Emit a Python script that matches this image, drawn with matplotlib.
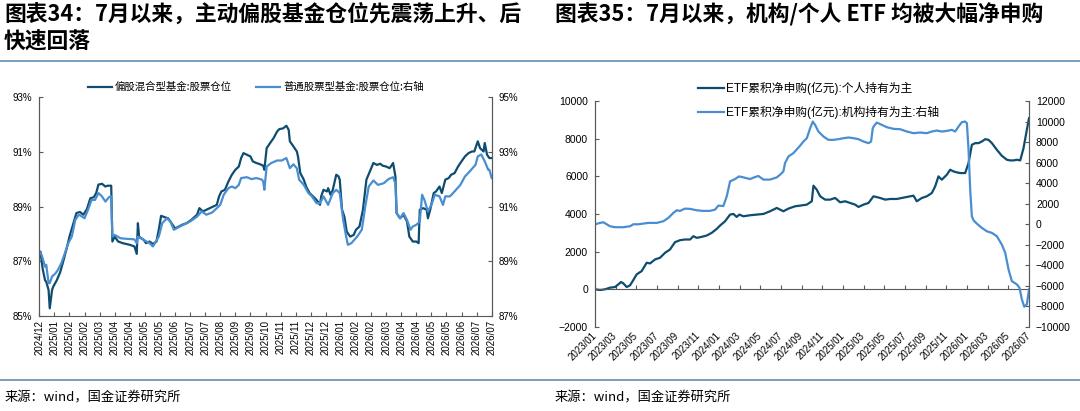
import matplotlib
matplotlib.use('Agg')
import matplotlib.pyplot as plt
from matplotlib.lines import Line2D

plt.rcParams['font.family'] = ['Liberation Sans', 'Noto Sans CJK SC', 'DejaVu Sans']
CJK = ['Noto Sans CJK SC', 'DejaVu Sans']

# ---------------- data: chart 34 (left) ----------------
title34_l1 = '图表34：7月以来，主动偏股基金仓位先震荡上升、后'
title34_l2 = '快速回落'
name_mix = '偏股混合型基金:股票仓位'
name_stock = '普通股票型基金:股票仓位:右轴'
left_tick_labels = ['2024/12', '2025/01', '2025/02', '2025/02', '2025/03', '2025/04', '2025/04',
                    '2025/05', '2025/05', '2025/06', '2025/07', '2025/07', '2025/08', '2025/09',
                    '2025/09', '2025/10', '2025/11', '2025/11', '2025/12', '2025/12', '2026/01',
                    '2026/02', '2026/02', '2026/03', '2026/04', '2026/04', '2026/05', '2026/05',
                    '2026/06', '2026/07', '2026/07']
# trading-day index
mix_day = [0, 1, 3, 5, 6, 8, 9, 11, 12, 15,
           18, 21, 24, 26, 29, 31, 32, 35, 38, 41,
           44, 47, 49, 51, 54, 57, 59, 62, 63, 65,
           68, 72, 78, 82, 84, 85, 86, 90, 92, 95,
           98, 101, 103, 105, 108, 111, 114, 117, 120, 123,
           127, 131, 136, 138, 141, 144, 149, 153, 155, 157,
           160, 163, 166, 169, 172, 174, 176, 179, 182, 184,
           187, 190, 193, 194, 196, 199, 202, 205, 207, 210,
           213, 215, 216, 219, 222, 223, 225, 228, 230, 233,
           236, 239, 242, 243, 245, 248, 249, 251, 253, 256,
           258, 259, 261, 263, 265, 266, 268, 271, 273, 276,
           279, 282, 285, 288, 291, 294, 296, 299, 302, 304,
           305, 307, 308, 311, 314, 317, 319, 322, 325, 327,
           328, 331, 334, 335, 337, 340, 342, 345, 347, 350,
           353, 355, 358, 361, 364, 367, 370, 373, 375, 378,
           380, 383, 384, 386, 388, 390]
mix_pos = [87.29, 87.35, 86.7, 86.3, 86.25, 85.95, 85.28, 85.95, 86.07, 86.3,
           86.6, 87.05, 87.54, 87.9, 88.33, 88.63, 88.76, 88.8, 88.7, 88.9,
           89.3, 89.34, 89.49, 89.8, 89.83, 89.73, 89.76, 89.76, 87.72, 87.9,
           87.72, 87.66, 87.6, 87.54, 87.27, 88.39, 87.9, 87.78, 87.66, 87.72,
           87.63, 87.72, 88.15, 88.66, 88.61, 88.57, 88.39, 88.2, 88.26, 88.33,
           88.39, 88.51, 88.7, 88.94, 88.82, 88.88, 88.98, 89.06, 89.37, 89.55,
           89.61, 89.91, 90.16, 90.34, 90.46, 90.77, 90.95, 90.89, 90.83, 90.65,
           90.59, 90.55, 90.49, 90.34, 91.13, 91.32, 91.5, 91.74, 91.83, 91.85,
           91.95, 91.8, 91.38, 91.2, 91.01, 90.83, 90.22, 89.98, 89.73, 89.49,
           89.37, 89.24, 89.06, 89.37, 89.61, 89.55, 89.67, 89.43, 89.61, 90.16,
           90.1, 89.98, 88.88, 88.63, 88.09, 88.02, 87.9, 87.96, 88.15, 88.27,
           88.88, 89.98, 90.28, 90.59, 90.52, 90.56, 90.49, 90.46, 90.4, 90.52,
           90.59, 90.1, 88.76, 88.57, 88.7, 88.45, 87.9, 87.72, 87.72, 87.66,
           88.88, 88.94, 88.88, 88.57, 88.88, 89.49, 89.55, 89.73, 89.49, 89.98,
           90.04, 90.16, 90.22, 90.46, 90.65, 90.83, 90.95, 91.01, 91.01, 91.38,
           91.13, 91.01, 91.32, 90.89, 90.77, 90.77]
stock_day = [0, 2, 5, 6, 8, 9, 11, 14, 16, 19,
             22, 25, 28, 31, 34, 37, 39, 42, 45, 48,
             51, 54, 57, 60, 62, 63, 65, 70, 75, 82,
             84, 85, 90, 95, 98, 103, 106, 110, 113, 116,
             120, 124, 130, 136, 140, 144, 149, 153, 156, 159,
             163, 166, 169, 172, 174, 179, 183, 187, 192, 193,
             194, 196, 200, 205, 209, 213, 216, 219, 222, 224,
             228, 232, 235, 239, 242, 245, 249, 253, 256, 259,
             262, 264, 266, 269, 274, 278, 281, 284, 288, 292,
             297, 301, 305, 307, 308, 311, 314, 317, 320, 322,
             325, 328, 330, 332, 335, 338, 341, 345, 348, 350,
             354, 358, 363, 367, 371, 376, 378, 381, 384, 387,
             388, 390]
stock_pos = [89.35, 89.23, 88.8, 88.87, 88.2, 88.2, 88.44, 88.56, 88.68, 88.93,
             89.29, 89.66, 89.9, 90.51, 90.7, 90.63, 90.57, 90.88, 91.24, 91.24,
             91.49, 91.37, 91.18, 91.34, 91.37, 89.9, 89.96, 89.84, 89.82, 89.8,
             89.66, 89.9, 89.78, 89.66, 89.54, 89.9, 90.39, 90.57, 90.45, 90.15,
             90.24, 90.33, 90.45, 90.63, 90.82, 90.7, 90.78, 90.94, 91.06, 91.43,
             91.67, 91.73, 91.67, 91.79, 92.04, 92.07, 92.0, 92.04, 91.98, 91.91,
             91.61, 92.46, 92.59, 92.68, 92.68, 92.77, 92.4, 92.54, 92.4, 91.98,
             91.79, 91.49, 91.37, 91.12, 91.12, 91.37, 91.06, 91.49, 91.61, 91.49,
             90.51, 90.02, 89.6, 89.66, 89.9, 90.15, 91.0, 91.73, 91.95, 91.79,
             91.85, 92.0, 92.07, 91.85, 90.76, 90.57, 90.76, 90.51, 90.15, 90.27,
             90.33, 90.45, 91.43, 91.24, 90.82, 91.06, 91.43, 91.37, 91.06, 91.37,
             91.37, 91.55, 91.79, 92.1, 92.28, 92.52, 92.83, 92.9, 92.65, 92.34,
             92.34, 92.04]
left_yticks = [85, 87, 89, 91, 93]
left_yticks_r = [87, 89, 91, 93, 95]

# ---------------- data: chart 35 (right) ----------------
title35 = '图表35：7月以来，机构/个人 ETF 均被大幅净申购'
name_ind = 'ETF累积净申购(亿元):个人持有为主'
name_inst = 'ETF累积净申购(亿元):机构持有为主:右轴'
right_tick_labels = ['2023/01', '2023/03', '2023/05', '2023/07', '2023/09', '2023/11',
                     '2024/01', '2024/03', '2024/05', '2024/07', '2024/09', '2024/11',
                     '2025/01', '2025/03', '2025/05', '2025/07', '2025/09', '2025/11',
                     '2026/01', '2026/03', '2026/05', '2026/07']
# months since 2023/01
ind_month = [0, 0.5, 0.97, 1.45, 1.94, 2.26, 2.52, 2.74, 3.07, 3.39,
             3.71, 4.03, 4.52, 5.0, 5.33, 5.81, 6.29, 6.78, 7.26, 7.74,
             8.23, 8.71, 9.2, 9.52, 9.84, 10.33, 10.81, 11.29, 11.78, 12.1,
             12.59, 13.07, 13.39, 13.71, 13.97, 14.36, 15.0, 15.65, 16.3, 16.94,
             17.59, 17.91, 18.23, 18.72, 19.36, 19.85, 20.5, 20.98, 21.14, 21.46,
             21.79, 22.27, 22.75, 23.24, 23.72, 24.21, 24.69, 25.17, 25.5, 25.98,
             26.47, 26.95, 27.6, 28.08, 28.56, 29.21, 29.69, 30.18, 30.82, 31.14,
             31.63, 32.11, 32.6, 32.92, 33.24, 33.56, 34.05, 34.37, 34.69, 35.02,
             35.34, 35.82, 36.15, 36.47, 36.79, 37.11, 37.44, 37.76, 38.08, 38.41,
             38.89, 39.37, 39.86, 40.18, 40.5, 40.83, 41.15, 41.47, 41.79, 42.0]
ind_val = [0, -35, 0, 88, 123, 265, 388, 317, 123, 212,
           494, 794, 970, 1411, 1376, 1587, 1676, 1940, 2116, 2504,
           2610, 2646, 2646, 2822, 2734, 2787, 2857, 2998, 3210, 3386,
           3616, 3968, 4004, 3845, 3968, 3880, 3933, 3968, 4004, 4145,
           4321, 4233, 4145, 4286, 4409, 4445, 4498, 4675, 5504, 5292,
           4939, 4763, 4763, 4851, 4622, 4675, 4586, 4498, 4375, 4498,
           4586, 4939, 4851, 4763, 4798, 4798, 4851, 4904, 4975, 4675,
           4851, 4939, 5116, 5468, 5998, 5821, 6086, 6350, 6262, 6209,
           6174, 6174, 6703, 7673, 7762, 7762, 7850, 7973, 7938, 7762,
           7409, 7091, 6880, 6845, 6845, 6880, 6845, 7497, 8467, 9085]
inst_month = [0, 0.5, 0.81, 1.13, 1.45, 1.94, 2.26, 2.74, 3.39, 3.71,
              4.2, 4.68, 5.16, 5.49, 5.97, 6.62, 7.1, 7.58, 7.91, 8.23,
              8.71, 9.2, 9.84, 10.49, 11.13, 11.62, 11.94, 12.42, 12.75, 13.07,
              13.55, 13.94, 14.36, 15.0, 15.49, 15.81, 16.3, 16.94, 17.59, 17.91,
              18.23, 18.39, 18.72, 19.2, 19.85, 20.17, 20.5, 20.82, 21.08, 21.3,
              21.62, 22.11, 22.59, 23.08, 23.56, 24.05, 24.53, 25.01, 25.5, 25.98,
              26.47, 26.72, 26.88, 27.01, 27.27, 27.76, 28.24, 28.89, 29.53, 30.18,
              30.82, 31.47, 32.11, 32.6, 33.08, 33.56, 34.05, 34.53, 34.86, 35.18,
              35.5, 35.82, 35.99, 36.15, 36.31, 36.47, 36.63, 36.95, 37.44, 37.92,
              38.41, 38.89, 39.37, 39.7, 40.02, 40.34, 40.83, 41.08, 41.31, 41.54,
              41.79, 42.0]
inst_val = [0, 133, 200, 0, -190, -287, -287, -287, -190, 0,
            0, 68, 133, 133, 133, 296, 619, 1103, 1361, 1303,
            1524, 1500, 1361, 1303, 1303, 1427, 1814, 1780, 2720, 4175,
            4400, 4660, 4565, 4400, 4600, 4700, 4350, 4350, 4565, 4823,
            5146, 5954, 6600, 6924, 7650, 8058, 8380, 9352, 10000, 9676,
            9028, 8543, 8219, 8219, 8284, 8381, 8446, 8381, 8284, 8058,
            7896, 8058, 9352, 9580, 9902, 9676, 9449, 9287, 9255, 9028,
            8867, 8931, 8867, 9028, 9125, 9028, 9090, 9190, 9028, 9514,
            9935, 10000, 9838, 7249, 3365, 777, 388, 65, -356, -680,
            -841, -1165, -1974, -2783, -4401, -5534, -5857, -6181, -7313, -8025,
            -7799, -6343]
right_yticks = [-2000, 0, 2000, 4000, 6000, 8000, 10000]
right_yticks_r = [-10000, -8000, -6000, -4000, -2000, 0, 2000, 4000, 6000, 8000, 10000, 12000]

source = '来源：wind，国金证券研究所'

# ---------------- style ----------------
DARK = '#0e4d70'
LIGHT = '#4a8ed2'
AXC = '#595959'
RULE = '#5f8fb0'
W, H = 1080, 411

fig = plt.figure(figsize=(10.8, 4.11), dpi=100)

def fx(px):
    return px / W

def fy(py):
    return 1 - py / H

# titles, rules and sources
fig.text(fx(4), fy(15), title34_l1, fontsize=15.7, fontweight='bold', family=CJK, va='center', ha='left')
fig.text(fx(4), fy(42), title34_l2, fontsize=15.7, fontweight='bold', family=CJK, va='center', ha='left')
fig.text(fx(555), fy(15), title35, fontsize=15.7, fontweight='bold', family=CJK, va='center', ha='left')
fig.add_artist(Line2D([0, 1], [fy(61), fy(61)], transform=fig.transFigure, color=RULE, lw=1.2))
fig.add_artist(Line2D([0, 1], [fy(380), fy(380)], transform=fig.transFigure, color=RULE, lw=1.2))
fig.text(fx(5), fy(398), source, fontsize=9.5, family=CJK, va='center', ha='left')
fig.text(fx(555), fy(398), source, fontsize=9.5, family=CJK, va='center', ha='left')

def style_axis(ax):
    for s in ax.spines.values():
        s.set_color(AXC)
        s.set_linewidth(0.8)
    ax.tick_params(direction='in', length=3, width=0.8, color=AXC, labelsize=7, labelcolor='black')

# ---------------- left chart ----------------
ax1 = fig.add_axes([fx(39.3), fy(316), fx(491.7 - 39.3), (316 - 97) / H])
ax1b = ax1.twinx()
ax1.plot(mix_day, mix_pos, color=DARK, lw=1.6, label=name_mix)
ax1b.plot(stock_day, stock_pos, color=LIGHT, lw=1.6, label=name_stock)
ax1.set_xlim(0, 390)
ax1.set_ylim(85, 93)
ax1b.set_ylim(87, 95)
ax1.set_yticks(left_yticks, [f'{v}%' for v in left_yticks])
ax1b.set_yticks(left_yticks_r, [f'{v}%' for v in left_yticks_r])
ax1.set_xticks([13 * i for i in range(len(left_tick_labels))], left_tick_labels, rotation=90)
for a in (ax1, ax1b):
    style_axis(a)
    a.spines['top'].set_visible(False)
ax1b.spines['bottom'].set_visible(False)
ax1.tick_params(axis='y', pad=5)
ax1b.tick_params(axis='y', pad=5)
ax1.tick_params(axis='x', pad=3)

h1 = ax1.get_lines() + ax1b.get_lines()
fig.legend(h1, [l.get_label() for l in h1], loc='center', bbox_to_anchor=(fx(256), fy(87)),
           ncol=2, frameon=False, prop={'family': CJK, 'size': 7.5}, handlelength=2.3,
           handletextpad=0.3, columnspacing=2.3, borderpad=0)

# ---------------- right chart ----------------
ax2 = fig.add_axes([fx(595), fy(327), fx(1029 - 595), (327 - 101) / H])
ax2b = ax2.twinx()
ax2.plot(ind_month, ind_val, color=DARK, lw=1.6, label=name_ind)
ax2b.plot(inst_month, inst_val, color=LIGHT, lw=1.6, label=name_inst)
ax2.set_xlim(0, 42)
ax2.set_ylim(-2000, 10000)
ax2b.set_ylim(-10000, 12000)
ax2.set_yticks(right_yticks)
ax2b.set_yticks(right_yticks_r)
for a in (ax2, ax2b):
    style_axis(a)
    a.spines['top'].set_visible(False)
ax2b.spines['bottom'].set_visible(False)
ax2.spines['bottom'].set_position(('data', 0))
ax2.set_xticks([2 * i for i in range(len(right_tick_labels))])
ax2.tick_params(axis='x', labelbottom=False)
ax2.tick_params(axis='y', pad=5, labelsize=7.5)
ax2b.tick_params(axis='y', pad=5, labelsize=7.5)

sec = ax2.secondary_xaxis(0)
sec.set_xticks([2 * i for i in range(len(right_tick_labels))], right_tick_labels,
               rotation=45, ha='right', va='center', rotation_mode='anchor')
sec.tick_params(length=0, pad=5, labelsize=7)
sec.spines['bottom'].set_visible(False)

h2 = ax2.get_lines() + ax2b.get_lines()
fig.legend(h2, [l.get_label() for l in h2], loc='upper left', bbox_to_anchor=(fx(692), fy(76)),
           ncol=1, frameon=False, prop={'family': ['Liberation Sans', 'Noto Sans CJK SC'], 'size': 8.5},
           handlelength=2.2, handletextpad=0.2, labelspacing=0.9, borderpad=0)

fig.savefig('out.png', dpi=100)
